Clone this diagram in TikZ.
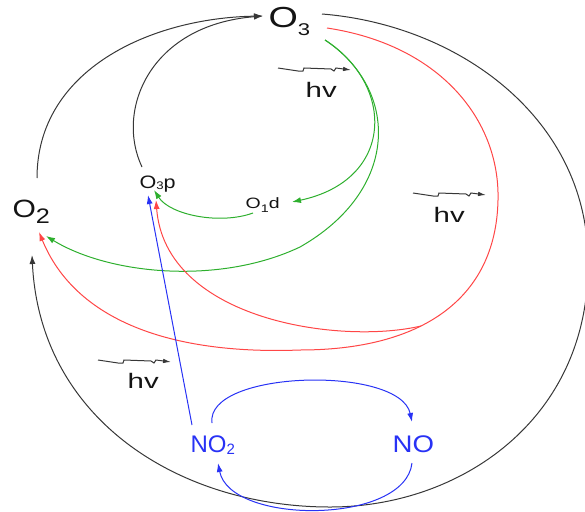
\documentclass[tikz,border=0pt]{standalone}
\usepackage{fontspec}
\setmainfont{Liberation Sans}
\usetikzlibrary{arrows.meta}
\definecolor{cgreen}{RGB}{45,175,45}
\definecolor{cred}{RGB}{255,70,70}
\definecolor{cblue}{RGB}{40,50,245}
\definecolor{cline}{RGB}{55,55,55}
\definecolor{ctext}{RGB}{20,20,20}
\newcommand\fsz[1]{\fontsize{#1}{#1}\selectfont}
\begin{document}
\begin{tikzpicture}[x=1pt,y=-1pt,line width=1pt,
  lbl/.style={inner sep=0pt,anchor=base west,text=ctext},
  tip/.style={-{Latex[length=9pt,width=6pt]}},
  blk/.style={draw=cline},
  grn/.style={draw=cgreen},
  rd/.style={draw=cred},
  blu/.style={draw=cblue},
  photon/.style={draw=cline,line width=1pt,-{Latex[length=8pt,width=4.5pt]}}]
\useasboundingbox (0,0) rectangle (585,511);

% labels
\node[lbl,font=\fsz{29},xscale=1.3] (O3) at (268,28) {O\raisebox{-7pt}{\fsz{17}3}};
\node[lbl,font=\fsz{25},xscale=1.2] (O2) at (12,217) {O\raisebox{-6pt}{\fsz{21}2}};
\node[lbl,font=\fsz{18},xscale=1.2] (O3p) at (139,188) {O\raisebox{-1pt}{\fsz{11}3}p};
\node[lbl,font=\fsz{15},xscale=1.3] (O1d) at (245,208) {O\raisebox{-4pt}{\fsz{11}1}d};
\node[lbl,font=\fsz{24},text=cblue] (NO2) at (190,452) {NO\raisebox{-2pt}{\fsz{15}2}};
\node[lbl,font=\fsz{24},xscale=1.15,text=cblue] (NO) at (392,452) {NO};
\node[lbl,font=\fsz{21},xscale=1.4] (hv1) at (305,97) {hv};
\node[lbl,font=\fsz{21},xscale=1.4] (hv2) at (433,222) {hv};
\node[lbl,font=\fsz{21},xscale=1.4] (hv3) at (127,388) {hv};

% photons
\draw[photon] ([shift={(-27,-29)}]hv1.base west) -- ++(20,3) -- ++(5,0) -- ++(1,-3) -- ++(27,1) -- ++(3,2) -- ++(2,-3) -- ++(15,2);
\draw[photon] ([shift={(-20,-29)}]hv2.base west) -- ++(20,3) -- ++(5,0) -- ++(1,-3) -- ++(27,1) -- ++(3,2) -- ++(2,-3) -- ++(15,2);
\draw[photon] ([shift={(-29,-28)}]hv3.base west) -- ++(20,3) -- ++(5,0) -- ++(1,-3) -- ++(27,1) -- ++(3,2) -- ++(2,-3) -- ++(15,2);

% black cycle
\draw[blk,tip] ([shift={(54,-14)}]O3.base west) .. controls (460,25) and (590,120) .. (588,265)
  .. controls (588,420) and (460,507) .. (330,507)
  .. controls (180,507) and (40,420) .. ([shift={(20,38)}]O2.base west);
\draw[blk,tip] ([shift={(25,-39)}]O2.base west) .. controls (37,70) and (150,18) .. ([shift={(-5,-12)}]O3.base west);
\draw[blk,tip] ([shift={(3,-21)}]O3p.base west) .. controls (115,110) and (150,25) .. ([shift={(-5,-12)}]O3.base west);

% green
\draw[grn,tip] ([shift={(57,12)}]O3.base west) .. controls (395,85) and (395,180) .. ([shift={(47,-6)}]O1d.base west);
\draw[grn,tip] ([shift={(57,12)}]O3.base west) .. controls (400,90) and (400,190) .. (300,247)
  .. controls (220,285) and (110,275) .. ([shift={(34,19)}]O2.base west);
\draw[grn,tip] ([shift={(8,5)}]O1d.base west) .. controls (220,225) and (170,215) .. ([shift={(15,2)}]O3p.base west);

% red
\draw[rd,tip] ([shift={(59,0)}]O3.base west) .. controls (440,45) and (500,120) .. (498,200)
  .. controls (496,300) and (420,350) .. (300,350) coordinate[pos=0.6] (rs)
  .. controls (170,355) and (75,320) .. ([shift={(27,15)}]O2.base west);
\draw[rd,tip] (rs) .. controls (340,345) and (165,320) .. ([shift={(17,12)}]O3p.base west);

% blue
\draw[blu,tip] ([shift={(2,-27)}]NO2.base west) -- ([shift={(9,7)}]O3p.base west);
\draw[blu,tip] ([shift={(22,-29)}]NO2.base west) .. controls (205,370) and (400,365) .. ([shift={(20,-30)}]NO.base west);
\draw[blu,tip] ([shift={(20,11)}]NO.base west) .. controls (405,525) and (230,525) .. ([shift={(28,11)}]NO2.base west);
\end{tikzpicture}
\end{document}
